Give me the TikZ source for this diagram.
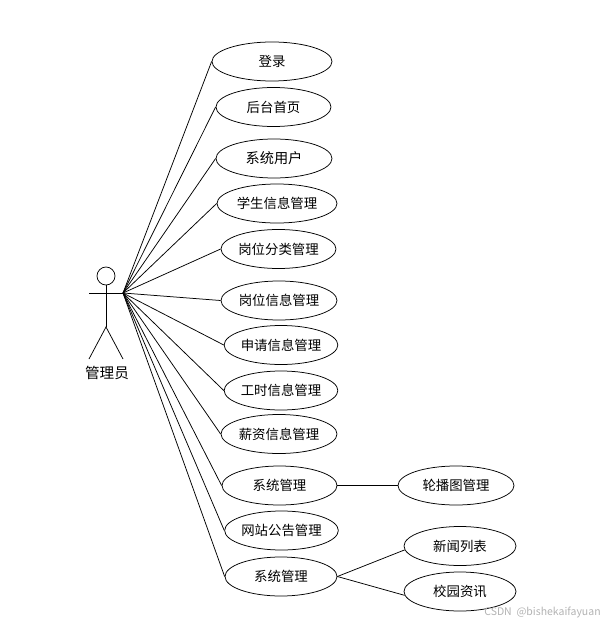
\documentclass[tikz,border=0pt]{standalone}
\usepackage{fontspec}
\setmainfont{Noto Sans CJK SC}
\usetikzlibrary{shapes.geometric}
\tikzset{
  usecase/.style={draw,ellipse,inner sep=0pt,minimum height=39,font=\fontsize{13.4}{15}\selectfont},
  link/.style={draw,line width=0.75pt}
}
\begin{document}
\begin{tikzpicture}[x=1pt,y=-1pt,line width=0.75pt]
\useasboundingbox (0,0) rectangle (607,623);

% actor
\node[draw,circle,minimum size=18,inner sep=0pt] (head) at (106,276) {};
\coordinate (hip) at (106,327);
\coordinate (handl) at (89,293);
\coordinate (handr) at (123,293);
\coordinate (footl) at (89,359);
\coordinate (footr) at (123,359);
\draw (head.south) -- (hip);
\draw (handl) -- (handr);
\draw (footl) -- (hip) -- (footr);
\node[font=\fontsize{14.6}{16}\selectfont] (actor) at (107,373) {管理员};

% use cases
\node[usecase,minimum width=120] (login) at (272,61.5) {登录};
\node[usecase,minimum width=115] (home) at (273.5,107) {后台首页};
\node[usecase,minimum width=116,font=\fontsize{14.2}{16}\selectfont] (users) at (274,158.5) {系统用户};
\node[usecase,minimum width=120] (student) at (277,203.5) {学生信息管理};
\node[usecase,minimum width=115] (jobtype) at (278.5,249) {岗位分类管理};
\node[usecase,minimum width=116] (jobinfo) at (279,300.5) {岗位信息管理};
\node[usecase,minimum width=112] (apply) at (281,345) {申请信息管理};
\node[usecase,minimum width=112] (hours) at (281,390.5) {工时信息管理};
\node[usecase,minimum width=116] (salary) at (279,434) {薪资信息管理};
\node[usecase,minimum width=115] (sys) at (279.5,485.5) {系统管理};
\node[usecase,minimum width=111] (notice) at (281.5,530.5) {网站公告管理};
\node[usecase,minimum width=112] (sysb) at (281,576.5) {系统管理};
\node[usecase,minimum width=116] (banner) at (456,485.5) {轮播图管理};
\node[usecase,minimum width=112] (news) at (460,546) {新闻列表};
\node[usecase,minimum width=112] (campus) at (460,591.5) {校园资讯};

\foreach \uc in {login,home,users,student,jobtype,jobinfo,apply,hours,salary,sys,notice,sysb}
  \draw[link] (handr) -- (\uc.west);

\draw[link] (sys) -- (banner);
\draw[link] (sysb.east) -- (news.184);
\draw[link] (sysb.east) -- (campus.184);

\node[text=black!30,font=\fontsize{10.5}{12}\selectfont] (mark) at (542.5,612) {CSDN\ \ @bishekaifayuan};
\end{tikzpicture}
\end{document}
